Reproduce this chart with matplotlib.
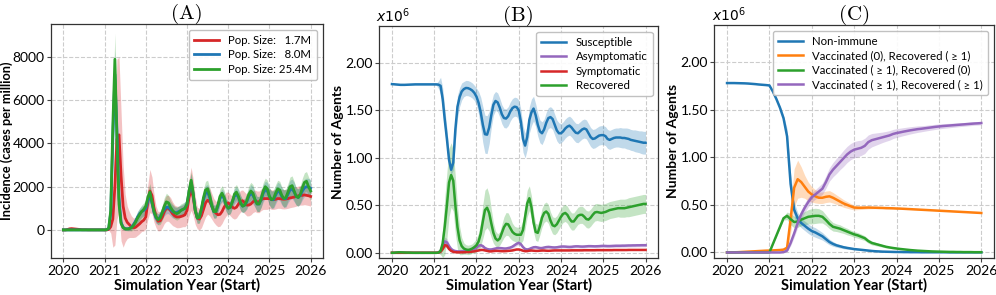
import numpy as np
import matplotlib
matplotlib.use("Agg")
import matplotlib.pyplot as plt
from matplotlib.ticker import FormatStrFormatter

plt.rcParams["font.family"] = ["Lato", "DejaVu Sans"]
plt.rcParams["mathtext.fontset"] = "dejavusans"

# ---------------- panel A : incidence (cases per million), 0.05-year grid ----------------
years_a = np.linspace(2020, 2026, 121)

pop_labels = ["Pop. Size:   1.7M", "Pop. Size:   8.0M", "Pop. Size: 25.4M"]

inc_small = [
    0, 0, 20, 50, 60, 50, 40, 30, 20, 10, 10, 10, 5, 5, 5, 5, 5, 5, 5, 5,
    0, 0, 20, 150, 500, 2000, 4200, 4400, 2500, 1100, 550, 350, 250, 150, 100, 120, 200, 280, 380, 450,
    600, 1300, 1800, 1600, 1000, 600, 400, 420, 600, 850, 1000, 1000, 900, 750, 650, 600, 600, 620, 650, 700,
    900, 1500, 1900, 1500, 900, 550, 500, 650, 950, 1250, 1380, 1300, 1100, 900, 780, 700, 720, 850, 1050, 1200,
    1250, 1150, 1050, 1000, 1050, 1200, 1330, 1350, 1250, 1150, 1150, 1200, 1300, 1350, 1300, 1300, 1400, 1450, 1450, 1450,
    1450, 1400, 1400, 1420, 1450, 1450, 1430, 1420, 1430, 1450, 1480, 1500, 1520, 1550, 1580, 1600, 1600, 1620, 1600, 1580,
    1550]
std_small = [
    0, 0, 20, 30, 30, 30, 20, 20, 10, 10, 10, 10, 5, 5, 5, 5, 5, 5, 5, 5,
    0, 0, 30, 300, 1300, 2700, 3700, 3600, 3000, 1900, 1100, 750, 600, 500, 450, 450, 450, 450, 450, 500,
    550, 800, 1000, 850, 650, 500, 450, 450, 500, 550, 600, 600, 600, 550, 500, 500, 500, 500, 500, 550,
    650, 850, 1000, 850, 650, 500, 500, 550, 600, 650, 650, 650, 600, 550, 550, 550, 550, 550, 550, 550,
    500, 500, 500, 500, 500, 500, 500, 500, 500, 500, 500, 500, 500, 500, 500, 500, 500, 500, 500, 500,
    450, 450, 450, 450, 450, 450, 450, 450, 450, 450, 450, 450, 450, 450, 450, 450, 450, 450, 450, 450,
    450]

inc_medium = [
    0, 0, 0, 0, 0, 0, 0, 0, 0, 0, 0, 0, 0, 0, 0, 0, 0, 0, 0, 0,
    0, 10, 70, 800, 4200, 7200, 4600, 1500, 350, 120, 60, 50, 70, 120, 250, 400, 600, 750, 850, 900,
    1000, 1350, 1650, 1250, 800, 550, 500, 600, 800, 950, 1050, 1050, 950, 850, 800, 800, 850, 900, 950, 1000,
    1200, 1750, 2200, 1650, 900, 550, 600, 950, 1400, 1700, 1750, 1500, 1100, 850, 850, 1100, 1450, 1600, 1450, 1150,
    1000, 1050, 1300, 1550, 1650, 1500, 1250, 1100, 1150, 1300, 1550, 1700, 1600, 1400, 1200, 1200, 1400, 1700, 1850, 1800,
    1550, 1400, 1400, 1600, 1800, 1750, 1550, 1450, 1450, 1650, 1850, 1900, 1750, 1550, 1500, 1600, 1800, 1950, 2000, 1980,
    1930]
std_medium = [
    0, 0, 0, 0, 0, 0, 0, 0, 0, 0, 0, 0, 0, 0, 0, 0, 0, 0, 0, 0,
    0, 10, 50, 350, 900, 1100, 900, 500, 150, 100, 80, 80, 100, 120, 150, 200, 250, 250, 250, 250,
    300, 350, 400, 350, 300, 250, 250, 250, 300, 300, 300, 300, 300, 300, 250, 250, 250, 250, 250, 300,
    300, 350, 400, 350, 300, 250, 250, 300, 350, 350, 350, 350, 300, 300, 300, 300, 300, 300, 300, 300,
    300, 300, 300, 350, 350, 350, 350, 300, 300, 350, 350, 400, 400, 350, 350, 350, 350, 400, 400, 400,
    400, 400, 400, 400, 400, 400, 400, 400, 400, 400, 450, 450, 450, 400, 400, 400, 400, 400, 400, 400,
    400]

inc_large = [
    0, 0, 0, 0, 0, 0, 0, 0, 0, 0, 0, 0, 0, 0, 0, 0, 0, 0, 0, 0,
    0, 10, 80, 900, 4800, 7900, 4200, 1200, 300, 100, 50, 40, 60, 100, 200, 350, 550, 700, 850, 950,
    1100, 1500, 1750, 1300, 850, 600, 480, 550, 800, 1100, 1300, 1250, 1050, 900, 800, 750, 800, 900, 950, 1000,
    1200, 1800, 2300, 1700, 900, 550, 600, 1000, 1500, 1850, 1900, 1600, 1150, 850, 850, 1150, 1550, 1700, 1500, 1150,
    1000, 1050, 1300, 1650, 1750, 1550, 1250, 1100, 1150, 1350, 1650, 1800, 1700, 1400, 1200, 1200, 1450, 1800, 2000, 1900,
    1550, 1400, 1450, 1700, 1900, 1850, 1600, 1450, 1500, 1750, 2000, 2050, 1800, 1550, 1500, 1650, 1950, 2200, 2250, 2000,
    1800]
std_large = [
    0, 0, 0, 0, 0, 0, 0, 0, 0, 0, 0, 0, 0, 0, 0, 0, 0, 0, 0, 0,
    0, 10, 50, 400, 900, 1200, 1000, 500, 150, 100, 80, 80, 100, 150, 200, 250, 300, 300, 300, 300,
    300, 350, 400, 350, 300, 250, 250, 300, 350, 400, 400, 350, 300, 300, 300, 300, 300, 300, 300, 300,
    300, 350, 400, 350, 300, 250, 300, 350, 400, 400, 400, 350, 300, 300, 300, 300, 350, 350, 350, 300,
    300, 300, 300, 350, 350, 350, 350, 300, 300, 350, 400, 400, 400, 350, 350, 350, 400, 400, 400, 400,
    400, 400, 400, 400, 400, 400, 400, 400, 400, 400, 450, 450, 450, 400, 400, 400, 450, 450, 450, 450,
    450]

# ---------------- panel B : compartments (millions of agents), 0.05-year grid ----------------
years_b = np.linspace(2020, 2026, 121)

susceptible = [
    1.778, 1.776, 1.774, 1.772, 1.770, 1.770, 1.770, 1.771, 1.772, 1.773, 1.774, 1.775, 1.775, 1.775, 1.775, 1.775, 1.775, 1.775, 1.775, 1.775,
    1.775, 1.775, 1.772, 1.760, 1.620, 1.400, 1.200, 0.980, 0.875, 0.950, 1.300, 1.540, 1.640, 1.700, 1.725, 1.737, 1.735, 1.725, 1.710, 1.685,
    1.645, 1.580, 1.480, 1.350, 1.250, 1.245, 1.320, 1.450, 1.560, 1.600, 1.585, 1.530, 1.460, 1.420, 1.415, 1.440, 1.490, 1.525, 1.540, 1.535,
    1.500, 1.380, 1.200, 1.130, 1.220, 1.400, 1.480, 1.520, 1.450, 1.350, 1.280, 1.260, 1.300, 1.370, 1.420, 1.430, 1.410, 1.350, 1.290, 1.260,
    1.260, 1.280, 1.310, 1.330, 1.340, 1.320, 1.290, 1.265, 1.260, 1.280, 1.300, 1.310, 1.300, 1.260, 1.220, 1.200, 1.205, 1.220, 1.235, 1.240,
    1.240, 1.230, 1.200, 1.190, 1.200, 1.210, 1.215, 1.215, 1.215, 1.210, 1.210, 1.205, 1.200, 1.190, 1.185, 1.180, 1.175, 1.170, 1.165, 1.160,
    1.160]
susceptible_sd = [
    0.005, 0.005, 0.005, 0.005, 0.005, 0.005, 0.005, 0.005, 0.005, 0.005, 0.005, 0.005, 0.005, 0.005, 0.005, 0.005, 0.005, 0.005, 0.005, 0.005,
    0.005, 0.010, 0.040, 0.090, 0.120, 0.120, 0.110, 0.080, 0.050, 0.080, 0.130, 0.120, 0.100, 0.090, 0.080, 0.080, 0.080, 0.080, 0.080, 0.080,
    0.090, 0.120, 0.160, 0.190, 0.200, 0.200, 0.170, 0.130, 0.110, 0.100, 0.100, 0.100, 0.100, 0.100, 0.100, 0.100, 0.100, 0.100, 0.100, 0.100,
    0.110, 0.130, 0.140, 0.130, 0.130, 0.140, 0.140, 0.130, 0.120, 0.120, 0.120, 0.120, 0.110, 0.110, 0.110, 0.110, 0.110, 0.110, 0.110, 0.110,
    0.100, 0.100, 0.100, 0.100, 0.100, 0.100, 0.100, 0.100, 0.100, 0.100, 0.100, 0.100, 0.100, 0.100, 0.100, 0.100, 0.100, 0.100, 0.100, 0.100,
    0.100, 0.100, 0.100, 0.100, 0.100, 0.100, 0.100, 0.100, 0.105, 0.105, 0.105, 0.110, 0.110, 0.110, 0.110, 0.115, 0.115, 0.115, 0.120, 0.120,
    0.120]

asymptomatic = [
    0, 0, 0, 0, 0, 0, 0, 0, 0, 0, 0, 0, 0, 0, 0, 0, 0, 0, 0, 0,
    0, 0, 0.003, 0.020, 0.070, 0.120, 0.110, 0.070, 0.040, 0.025, 0.018, 0.015, 0.015, 0.016, 0.018, 0.020, 0.022, 0.026, 0.030, 0.040,
    0.055, 0.075, 0.080, 0.070, 0.050, 0.040, 0.035, 0.035, 0.040, 0.045, 0.050, 0.050, 0.048, 0.045, 0.045, 0.050, 0.055, 0.065, 0.080, 0.095,
    0.105, 0.090, 0.060, 0.040, 0.035, 0.040, 0.050, 0.058, 0.060, 0.055, 0.050, 0.050, 0.055, 0.060, 0.062, 0.060, 0.057, 0.056, 0.058, 0.062,
    0.065, 0.066, 0.065, 0.063, 0.062, 0.063, 0.066, 0.068, 0.068, 0.066, 0.065, 0.066, 0.068, 0.070, 0.070, 0.069, 0.068, 0.069, 0.070, 0.072,
    0.073, 0.072, 0.071, 0.071, 0.072, 0.073, 0.074, 0.074, 0.074, 0.075, 0.075, 0.076, 0.077, 0.077, 0.078, 0.078, 0.079, 0.079, 0.080, 0.080,
    0.080]
asymptomatic_sd = [
    0, 0, 0, 0, 0, 0, 0, 0, 0, 0, 0, 0, 0, 0, 0, 0, 0, 0, 0, 0,
    0, 0, 0.003, 0.015, 0.035, 0.045, 0.040, 0.030, 0.020, 0.015, 0.010, 0.010, 0.010, 0.010, 0.010, 0.010, 0.010, 0.012, 0.014, 0.016,
    0.018, 0.020, 0.020, 0.018, 0.016, 0.014, 0.013, 0.013, 0.014, 0.015, 0.015, 0.015, 0.015, 0.015, 0.015, 0.015, 0.016, 0.018, 0.020, 0.022,
    0.022, 0.020, 0.018, 0.015, 0.014, 0.014, 0.015, 0.016, 0.016, 0.016, 0.016, 0.016, 0.016, 0.016, 0.016, 0.016, 0.016, 0.016, 0.016, 0.016,
    0.016, 0.016, 0.016, 0.016, 0.016, 0.016, 0.016, 0.016, 0.016, 0.016, 0.016, 0.016, 0.016, 0.016, 0.016, 0.016, 0.016, 0.016, 0.016, 0.016,
    0.016, 0.016, 0.016, 0.016, 0.016, 0.016, 0.016, 0.016, 0.016, 0.016, 0.016, 0.016, 0.016, 0.016, 0.016, 0.016, 0.016, 0.016, 0.016, 0.016,
    0.016]

symptomatic = [
    0, 0, 0, 0, 0, 0, 0, 0, 0, 0, 0, 0, 0, 0, 0, 0, 0, 0, 0, 0,
    0, 0, 0.002, 0.010, 0.040, 0.080, 0.075, 0.040, 0.020, 0.010, 0.006, 0.005, 0.005, 0.005, 0.006, 0.007, 0.008, 0.010, 0.012, 0.015,
    0.020, 0.025, 0.030, 0.030, 0.025, 0.020, 0.015, 0.015, 0.018, 0.020, 0.020, 0.018, 0.017, 0.017, 0.018, 0.020, 0.022, 0.025, 0.030, 0.035,
    0.035, 0.030, 0.022, 0.017, 0.018, 0.022, 0.024, 0.022, 0.020, 0.020, 0.022, 0.024, 0.024, 0.022, 0.021, 0.022, 0.024, 0.025, 0.025, 0.025,
    0.025, 0.025, 0.025, 0.025, 0.025, 0.026, 0.026, 0.026, 0.026, 0.026, 0.026, 0.027, 0.027, 0.027, 0.027, 0.027, 0.027, 0.028, 0.028, 0.028,
    0.028, 0.028, 0.028, 0.028, 0.028, 0.029, 0.029, 0.029, 0.029, 0.029, 0.029, 0.029, 0.030, 0.030, 0.030, 0.030, 0.030, 0.030, 0.030, 0.030,
    0.030]
symptomatic_sd = [
    0, 0, 0, 0, 0, 0, 0, 0, 0, 0, 0, 0, 0, 0, 0, 0, 0, 0, 0, 0,
    0, 0, 0.002, 0.006, 0.015, 0.025, 0.020, 0.012, 0.008, 0.005, 0.004, 0.004, 0.004, 0.004, 0.004, 0.004, 0.004, 0.005, 0.005, 0.006,
    0.007, 0.008, 0.008, 0.008, 0.007, 0.006, 0.005, 0.005, 0.006, 0.006, 0.006, 0.006, 0.006, 0.006, 0.006, 0.006, 0.006, 0.007, 0.008, 0.008,
    0.008, 0.008, 0.007, 0.006, 0.006, 0.006, 0.006, 0.006, 0.006, 0.006, 0.006, 0.006, 0.006, 0.006, 0.006, 0.006, 0.006, 0.006, 0.006, 0.006,
    0.006, 0.006, 0.006, 0.006, 0.006, 0.006, 0.006, 0.006, 0.006, 0.006, 0.006, 0.006, 0.006, 0.006, 0.006, 0.006, 0.006, 0.006, 0.006, 0.006,
    0.006, 0.006, 0.006, 0.006, 0.006, 0.006, 0.006, 0.006, 0.006, 0.006, 0.006, 0.006, 0.006, 0.006, 0.006, 0.006, 0.006, 0.006, 0.006, 0.006,
    0.006]

recovered = [
    0, 0, 0.003, 0.005, 0.005, 0.004, 0.003, 0.002, 0.002, 0.001, 0, 0, 0, 0, 0, 0, 0, 0, 0, 0,
    0, 0, 0.002, 0.020, 0.100, 0.280, 0.500, 0.740, 0.820, 0.760, 0.500, 0.270, 0.130, 0.070, 0.045, 0.035, 0.030, 0.035, 0.045, 0.060,
    0.080, 0.120, 0.200, 0.330, 0.450, 0.475, 0.420, 0.310, 0.210, 0.150, 0.130, 0.150, 0.210, 0.270, 0.305, 0.300, 0.260, 0.220, 0.200, 0.190,
    0.190, 0.190, 0.240, 0.380, 0.520, 0.575, 0.480, 0.320, 0.220, 0.210, 0.280, 0.370, 0.420, 0.435, 0.410, 0.340, 0.290, 0.280, 0.300, 0.340,
    0.380, 0.410, 0.420, 0.400, 0.360, 0.330, 0.330, 0.360, 0.390, 0.400, 0.400, 0.380, 0.355, 0.350, 0.370, 0.400, 0.425, 0.430, 0.425, 0.420,
    0.425, 0.430, 0.440, 0.450, 0.455, 0.460, 0.465, 0.470, 0.470, 0.470, 0.470, 0.475, 0.480, 0.485, 0.490, 0.495, 0.500, 0.505, 0.510, 0.515,
    0.515]
recovered_sd = [
    0, 0, 0.002, 0.003, 0.003, 0.003, 0.002, 0.002, 0.001, 0.001, 0, 0, 0, 0, 0, 0, 0, 0, 0, 0,
    0, 0, 0.005, 0.040, 0.150, 0.300, 0.350, 0.360, 0.340, 0.320, 0.300, 0.230, 0.150, 0.090, 0.060, 0.050, 0.050, 0.050, 0.050, 0.060,
    0.070, 0.090, 0.130, 0.180, 0.210, 0.210, 0.190, 0.150, 0.110, 0.080, 0.070, 0.070, 0.090, 0.110, 0.120, 0.120, 0.110, 0.090, 0.080, 0.080,
    0.080, 0.090, 0.110, 0.130, 0.140, 0.130, 0.120, 0.100, 0.090, 0.090, 0.090, 0.100, 0.100, 0.100, 0.100, 0.090, 0.090, 0.090, 0.090, 0.090,
    0.090, 0.090, 0.090, 0.090, 0.090, 0.090, 0.090, 0.090, 0.090, 0.090, 0.090, 0.090, 0.090, 0.090, 0.090, 0.090, 0.090, 0.090, 0.090, 0.090,
    0.090, 0.090, 0.090, 0.090, 0.090, 0.090, 0.090, 0.090, 0.095, 0.095, 0.095, 0.095, 0.100, 0.100, 0.100, 0.100, 0.100, 0.100, 0.100, 0.100,
    0.100]

# ---------------- panel C : immunity status (millions of agents), monthly grid ----------------
years_c = np.linspace(2020, 2026, 73)

non_immune = [
    1.780, 1.780, 1.780, 1.779, 1.778, 1.777, 1.775, 1.772, 1.769, 1.765, 1.762, 1.759,
    1.755, 1.690, 1.610, 1.520, 1.410, 1.220, 0.720, 0.450, 0.360, 0.310, 0.280, 0.250,
    0.225, 0.210, 0.190, 0.170, 0.140, 0.110, 0.090, 0.075, 0.065, 0.055, 0.048, 0.042,
    0.036, 0.032, 0.028, 0.024, 0.020, 0.016, 0.013, 0.011, 0.009, 0.008, 0.007, 0.006,
    0.005, 0.005, 0.004, 0.004, 0.003, 0.003, 0.003, 0.002, 0.002, 0.002, 0.002, 0.002,
    0.002, 0.002, 0.002, 0.001, 0.001, 0.001, 0.001, 0.001, 0.001, 0.001, 0.001, 0.001,
    0.001]
non_immune_sd = [
    0, 0, 0, 0, 0, 0, 0, 0, 0, 0, 0, 0,
    0.002, 0.010, 0.015, 0.020, 0.030, 0.080, 0.110, 0.080, 0.060, 0.050, 0.050, 0.050,
    0.050, 0.050, 0.045, 0.040, 0.035, 0.030, 0.025, 0.020, 0.018, 0.016, 0.014, 0.012,
    0.010, 0.009, 0.008, 0.007, 0.006, 0.005, 0.004, 0.004, 0.003, 0.003, 0.003, 0.002,
    0.002, 0.002, 0.002, 0.002, 0.001, 0.001, 0.001, 0.001, 0.001, 0.001, 0.001, 0.001,
    0.001, 0.001, 0.001, 0.001, 0.001, 0.001, 0.001, 0.001, 0.001, 0.001, 0.001, 0.001,
    0.001]

vacc0_rec1 = [
    0.000, 0.001, 0.002, 0.003, 0.005, 0.007, 0.009, 0.011, 0.013, 0.015, 0.017, 0.019,
    0.020, 0.022, 0.024, 0.026, 0.030, 0.050, 0.350, 0.680, 0.770, 0.740, 0.690, 0.640,
    0.610, 0.590, 0.575, 0.575, 0.585, 0.590, 0.575, 0.555, 0.535, 0.515, 0.500, 0.485,
    0.472, 0.470, 0.470, 0.471, 0.472, 0.471, 0.470, 0.469, 0.468, 0.466, 0.465, 0.464,
    0.462, 0.461, 0.459, 0.457, 0.455, 0.453, 0.451, 0.449, 0.447, 0.445, 0.443, 0.441,
    0.439, 0.437, 0.435, 0.433, 0.431, 0.429, 0.427, 0.425, 0.423, 0.421, 0.419, 0.417,
    0.415]
vacc0_rec1_sd = [
    0, 0, 0, 0, 0.001, 0.001, 0.001, 0.002, 0.002, 0.002, 0.002, 0.002,
    0.003, 0.003, 0.003, 0.004, 0.005, 0.030, 0.150, 0.200, 0.200, 0.160, 0.120, 0.100,
    0.080, 0.070, 0.060, 0.060, 0.060, 0.060, 0.055, 0.050, 0.045, 0.040, 0.035, 0.030,
    0.025, 0.020, 0.018, 0.016, 0.014, 0.012, 0.010, 0.010, 0.008, 0.008, 0.006, 0.006,
    0.005, 0.005, 0.004, 0.004, 0.004, 0.003, 0.003, 0.003, 0.003, 0.003, 0.002, 0.002,
    0.002, 0.002, 0.002, 0.002, 0.002, 0.002, 0.002, 0.002, 0.002, 0.002, 0.002, 0.002,
    0.002]

vacc1_rec0 = [
    0, 0, 0, 0, 0, 0, 0, 0, 0, 0, 0, 0,
    0.000, 0.090, 0.180, 0.270, 0.360, 0.385, 0.350, 0.320, 0.325, 0.345, 0.360, 0.375,
    0.380, 0.385, 0.385, 0.375, 0.340, 0.300, 0.270, 0.260, 0.250, 0.235, 0.220, 0.205,
    0.190, 0.180, 0.165, 0.150, 0.120, 0.100, 0.090, 0.080, 0.070, 0.060, 0.053, 0.047,
    0.042, 0.037, 0.033, 0.029, 0.025, 0.022, 0.019, 0.017, 0.015, 0.013, 0.011, 0.010,
    0.009, 0.008, 0.007, 0.006, 0.006, 0.005, 0.005, 0.004, 0.004, 0.004, 0.003, 0.003,
    0.003]
vacc1_rec0_sd = [
    0, 0, 0, 0, 0, 0, 0, 0, 0, 0, 0, 0,
    0.000, 0.005, 0.010, 0.015, 0.020, 0.040, 0.060, 0.060, 0.060, 0.065, 0.070, 0.075,
    0.080, 0.080, 0.075, 0.065, 0.055, 0.050, 0.045, 0.040, 0.040, 0.035, 0.035, 0.030,
    0.030, 0.030, 0.028, 0.025, 0.022, 0.020, 0.018, 0.016, 0.014, 0.012, 0.010, 0.009,
    0.008, 0.007, 0.006, 0.005, 0.005, 0.004, 0.004, 0.003, 0.003, 0.003, 0.002, 0.002,
    0.002, 0.002, 0.002, 0.002, 0.001, 0.001, 0.001, 0.001, 0.001, 0.001, 0.001, 0.001,
    0.001]

vacc1_rec1 = [
    0, 0, 0, 0, 0, 0, 0, 0, 0, 0, 0, 0,
    0.000, 0.000, 0.000, 0.000, 0.003, 0.020, 0.100, 0.200, 0.310, 0.400, 0.470, 0.530,
    0.580, 0.610, 0.640, 0.670, 0.740, 0.820, 0.870, 0.910, 0.950, 0.990, 1.030, 1.060,
    1.080, 1.090, 1.100, 1.120, 1.160, 1.180, 1.190, 1.200, 1.210, 1.220, 1.230, 1.245,
    1.255, 1.262, 1.270, 1.277, 1.284, 1.290, 1.296, 1.300, 1.305, 1.310, 1.315, 1.320,
    1.324, 1.328, 1.331, 1.334, 1.337, 1.340, 1.343, 1.346, 1.349, 1.352, 1.355, 1.357,
    1.360]
vacc1_rec1_sd = [
    0, 0, 0, 0, 0, 0, 0, 0, 0, 0, 0, 0,
    0.000, 0.000, 0.000, 0.000, 0.003, 0.010, 0.030, 0.040, 0.050, 0.050, 0.050, 0.050,
    0.050, 0.050, 0.055, 0.060, 0.065, 0.070, 0.075, 0.080, 0.080, 0.085, 0.085, 0.085,
    0.085, 0.085, 0.080, 0.080, 0.075, 0.070, 0.065, 0.060, 0.055, 0.052, 0.050, 0.048,
    0.046, 0.044, 0.042, 0.040, 0.038, 0.036, 0.034, 0.032, 0.030, 0.029, 0.028, 0.027,
    0.026, 0.025, 0.024, 0.023, 0.022, 0.021, 0.020, 0.020, 0.019, 0.019, 0.018, 0.018,
    0.018]

year_ticks = [2020, 2021, 2022, 2023, 2024, 2025, 2026]

RED, BLUE, GREEN = "#d62728", "#1f77b4", "#2ca02c"
PURPLE, ORANGE = "#9467bd", "#ff7f0e"


def band(ax, x, mean, sd, color, label, lw):
    mean = np.asarray(mean, dtype=float)
    sd = np.asarray(sd, dtype=float)
    ax.fill_between(x, mean - sd, mean + sd, color=color, alpha=0.28, linewidth=0)
    ax.plot(x, mean, color=color, lw=lw, label=label)


def style(ax, title, ylabel, ylabel_size, ylabel_x):
    ax.set_title(title, fontfamily="cmr10", fontsize=15, pad=3)
    ax.set_xlabel("Simulation Year (Start)", fontsize=10.5, fontweight="bold", labelpad=1)
    ax.set_ylabel(ylabel, fontsize=ylabel_size, fontweight="bold")
    ax.yaxis.set_label_coords(ylabel_x, 0.5)
    ax.set_xticks(year_ticks)
    ax.tick_params(labelsize=10, length=3, pad=2, color="#444444")
    ax.tick_params(axis="y", pad=1.5)
    ax.grid(True, linestyle="--", color="#cccccc", linewidth=0.8)
    ax.set_axisbelow(True)
    for s in ax.spines.values():
        s.set_color("#333333")
        s.set_linewidth(0.9)


def legend(ax):
    ax.legend(loc="upper right", fontsize=8.2, handlelength=2.2, borderpad=0.45,
              labelspacing=0.3, handletextpad=0.8, edgecolor="#bbbbbb", framealpha=0.9)


fig = plt.figure(figsize=(9.96, 2.95), dpi=100)
ax_a = fig.add_axes([0.0512, 0.1254, 0.2731, 0.7932])
ax_b = fig.add_axes([0.3808, 0.1254, 0.2801, 0.7864])
ax_c = fig.add_axes([0.7172, 0.1264, 0.2808, 0.7888])

# (A)
band(ax_a, years_a, inc_small, std_small, RED, pop_labels[0], 2.0)
band(ax_a, years_a, inc_medium, std_medium, BLUE, pop_labels[1], 2.0)
band(ax_a, years_a, inc_large, std_large, GREEN, pop_labels[2], 2.0)
style(ax_a, "(A)", "Incidence (cases per million)", 9.2, -0.14)
ax_a.set_ylim(-1300, 9530)
ax_a.set_yticks([0, 2000, 4000, 6000, 8000])
legend(ax_a)

# (B)
band(ax_b, years_b, susceptible, susceptible_sd, BLUE, "Susceptible", 1.8)
band(ax_b, years_b, asymptomatic, asymptomatic_sd, PURPLE, "Asymptomatic", 1.8)
band(ax_b, years_b, symptomatic, symptomatic_sd, RED, "Symptomatic", 1.8)
band(ax_b, years_b, recovered, recovered_sd, GREEN, "Recovered", 1.8)
style(ax_b, "(B)", "Number of Agents", 10, -0.125)

# (C)
band(ax_c, years_c, non_immune, non_immune_sd, BLUE, "Non-immune", 1.8)
band(ax_c, years_c, vacc0_rec1, vacc0_rec1_sd, ORANGE, "Vaccinated (0), Recovered ( \u2265 1)", 1.8)
band(ax_c, years_c, vacc1_rec0, vacc1_rec0_sd, GREEN, "Vaccinated ( \u2265 1), Recovered (0)", 1.8)
band(ax_c, years_c, vacc1_rec1, vacc1_rec1_sd, PURPLE, "Vaccinated ( \u2265 1), Recovered ( \u2265 1)", 1.8)
style(ax_c, "(C)", "Number of Agents", 10, -0.125)

for ax in (ax_b, ax_c):
    ax.set_ylim(-0.055, 2.39)
    ax.set_yticks([0, 0.5, 1.0, 1.5, 2.0])
    ax.yaxis.set_major_formatter(FormatStrFormatter("%.2f"))
    ax.text(-0.01, 1.005, r"$\mathit{x10}^{6}$", transform=ax.transAxes,
            ha="left", va="bottom", fontsize=10)
    legend(ax)

fig.savefig("out.png", dpi=100)
